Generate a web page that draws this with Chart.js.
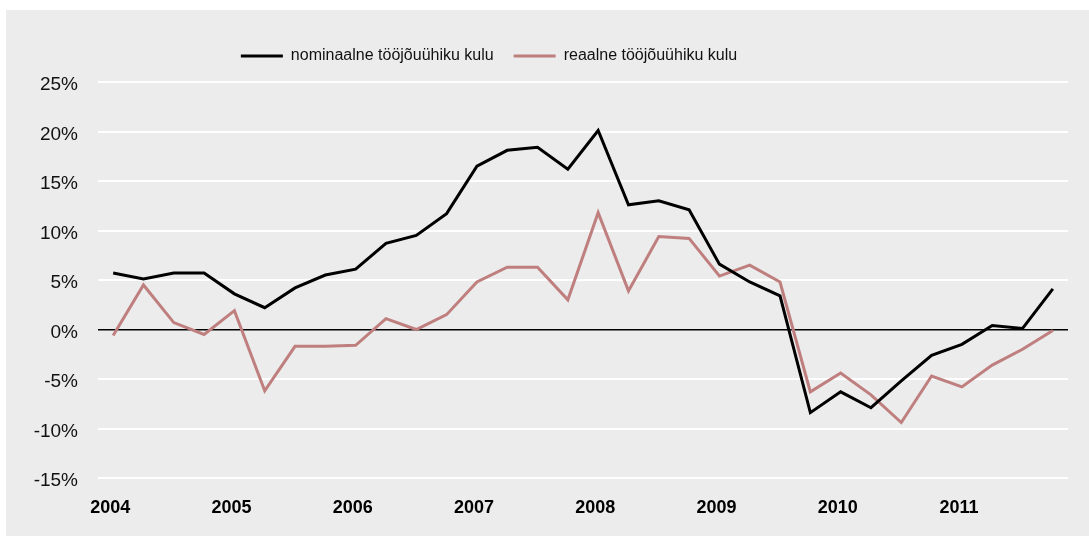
<!DOCTYPE html>
<html>
<head>
<meta charset="utf-8">
<script src="https://cdn.jsdelivr.net/npm/chart.js@4"></script>
<style>
  html, body { margin: 0; padding: 0; background: #fff; }
  #wrap { width: 1089px; height: 536px; }
</style>
</head>
<body>
<div id="wrap"><canvas id="laborChart" width="1089" height="536"></canvas></div>
<script>
// kvartalid 2004 I – 2011 IV
const years = ['2004', '2005', '2006', '2007', '2008', '2009', '2010', '2011'];
const quarters = years.flatMap(y => [y + ' I', y + ' II', y + ' III', y + ' IV']);

// nominaalne tööjõuühiku kulu, %
const nominal = [5.7, 5.1, 5.7, 5.7, 3.6, 2.2, 4.2, 5.5, 6.1, 8.7, 9.5, 11.7,
                 16.5, 18.1, 18.4, 16.2, 20.1, 12.6, 13.0, 12.1, 6.6, 4.8, 3.4, -8.4,
                 -6.3, -7.9, -5.2, -2.6, -1.5, 0.4, 0.1, 4.1];
// reaalne tööjõuühiku kulu, %
const real = [-0.6, 4.5, 0.7, -0.5, 1.9, -6.2, -1.7, -1.7, -1.6, 1.1, 0.0, 1.5,
              4.8, 6.3, 6.3, 3.0, 11.8, 3.9, 9.4, 9.2, 5.4, 6.5, 4.8, -6.3,
              -4.4, -6.6, -9.4, -4.7, -5.8, -3.6, -2.0, -0.1];

const yTicks = [-15, -10, -5, 0, 5, 10, 15, 20, 25];

const FONT = '"Liberation Sans", Arial, Helvetica, sans-serif';

// hall taust nagu originaalis
const bgPlugin = {
    id: 'bg',
    beforeDraw(chart) {
        const c = chart.ctx;
        c.save();
        c.fillStyle = '#ffffff';
        c.fillRect(0, 0, chart.width, chart.height);
        c.fillStyle = '#ebeceb';
        c.fillRect(6, 10, chart.width - 6, chart.height - 10);
        c.restore();
    }
};

// legendi ja graafiku vahele veidi ruumi, legend veidi vasakule
const legendGap = {
    id: 'legendGap',
    afterInit(chart) {
        const fit = chart.legend.fit;
        chart.legend.fit = function () {
            fit.call(this);
            this.height += 8;
        };
    },
    afterLayout(chart) {
        chart.legend.right -= 90;
    }
};

new Chart(document.getElementById('laborChart'), {
    type: 'line',
    data: {
        labels: quarters,
        datasets: [{
            label: 'nominaalne tööjõuühiku kulu',
            data: nominal,
            borderColor: '#000000',
            backgroundColor: '#000000',
            borderWidth: 3,
            pointRadius: 0,
            tension: 0
        }, {
            label: 'reaalne tööjõuühiku kulu',
            data: real,
            borderColor: '#bf7f7f',
            backgroundColor: '#bf7f7f',
            borderWidth: 3,
            pointRadius: 0,
            tension: 0
        }]
    },
    options: {
        responsive: false,
        animation: false,
        layout: { padding: { top: 28, right: 21, bottom: 0, left: 0 } },
        plugins: {
            legend: {
                position: 'top',
                labels: {
                    usePointStyle: true,
                    pointStyle: 'line',
                    pointStyleWidth: 42,
                    padding: 20,
                    color: '#111',
                    font: { family: FONT, size: 16 }
                }
            },
            tooltip: { enabled: false }
        },
        scales: {
            x: {
                offset: true,
                afterFit: s => { s.height = 58; },
                grid: { display: false, drawTicks: false },
                border: { display: false },
                ticks: {
                    autoSkip: false,
                    maxRotation: 0,
                    padding: 19,
                    labelOffset: -3,
                    color: '#000',
                    font: { family: FONT, size: 18, weight: 'bold' },
                    callback: (v, i) => (i % 4 === 0 ? years[i / 4] : '')
                }
            },
            y: {
                min: -15,
                max: 25,
                afterBuildTicks: s => { s.ticks = yTicks.map(v => ({ value: v })); },
                afterFit: s => { s.width = 98; },
                grid: {
                    drawTicks: false,
                    color: ctx => (ctx.tick && ctx.tick.value === 0 ? '#000000' : '#ffffff'),
                    lineWidth: ctx => (ctx.tick && ctx.tick.value === 0 ? 1.5 : 2)
                },
                border: { display: false },
                ticks: {
                    padding: 20,
                    labelOffset: 3,
                    color: '#111',
                    font: { family: FONT, size: 19 },
                    callback: v => v + '%'
                }
            }
        }
    },
    plugins: [bgPlugin, legendGap]
});
</script>
</body>
</html>
